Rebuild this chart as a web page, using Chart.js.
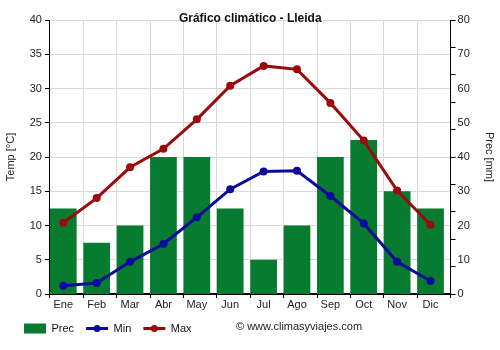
<!DOCTYPE html>
<html>
<head>
<meta charset="utf-8">
<script src="https://cdn.jsdelivr.net/npm/chart.js@4.4.1/dist/chart.umd.min.js"></script>
<style>
  body { margin: 0; background: #fff; }
  #wrap { width: 500px; height: 350px; position: relative; }
</style>
</head>
<body>
<div id="wrap"><canvas id="clima"></canvas></div>
<script>
const months = ['Ene', 'Feb', 'Mar', 'Abr', 'May', 'Jun', 'Jul', 'Ago', 'Sep', 'Oct', 'Nov', 'Dic'];
const prec = [25, 15, 20, 40, 40, 25, 10, 20, 40, 45, 30, 25];
const tMin = [1.2, 1.6, 4.7, 7.3, 11.2, 15.3, 17.9, 18.0, 14.3, 10.3, 4.7, 1.9];
const tMax = [10.4, 14.0, 18.5, 21.2, 25.5, 30.4, 33.3, 32.8, 27.9, 22.4, 15.1, 10.1];

const GREEN = '#077b30';
const BLUE = '#0a0a9b';
const RED = '#9b0b0b';
const GRID = '#d9d9d9';

Chart.defaults.font.family = "'Liberation Sans', Arial, sans-serif";
Chart.defaults.font.size = 11;
Chart.defaults.color = '#222';

const toXY = arr => arr.map((v, i) => ({ x: i, y: v }));

// title, copyright and the line+dot legend markers
const extras = {
  id: 'extras',
  afterDraw(chart) {
    const ctx = chart.ctx;
    const area = chart.chartArea;
    ctx.save();
    ctx.fillStyle = '#111';
    ctx.font = "bold 12px 'Liberation Sans', Arial, sans-serif";
    ctx.textAlign = 'center';
    ctx.textBaseline = 'alphabetic';
    ctx.fillText('Gráfico climático - Lleida', (area.left + area.right) / 2, 22);

    ctx.font = "11px 'Liberation Sans', Arial, sans-serif";
    ctx.textAlign = 'left';
    ctx.textBaseline = 'middle';
    ctx.fillStyle = '#222';
    ctx.fillText('© www.climasyviajes.com', 236, 327);

    const legend = chart.legend;
    legend.legendItems.forEach((item, i) => {
      const ds = chart.data.datasets[item.datasetIndex];
      if (ds.type !== 'line') return;
      const box = legend.legendHitBoxes[i];
      const y = box.top + box.height / 2;
      ctx.strokeStyle = ds.borderColor;
      ctx.lineWidth = 3;
      ctx.beginPath();
      ctx.moveTo(box.left, y);
      ctx.lineTo(box.left + 22, y);
      ctx.stroke();
      ctx.fillStyle = ds.borderColor;
      ctx.beginPath();
      ctx.arc(box.left + 11, y, 3.5, 0, Math.PI * 2);
      ctx.fill();
    });
    ctx.restore();
  }
};

new Chart(document.getElementById('clima'), {
  data: {
    datasets: [
      {
        type: 'bar', label: 'Prec', data: toXY(prec),
        xAxisID: 'x', yAxisID: 'yp',
        backgroundColor: GREEN, borderWidth: 0,
        barPercentage: 0.8, categoryPercentage: 1, order: 2
      },
      {
        type: 'line', label: 'Min', data: toXY(tMin),
        xAxisID: 'x', yAxisID: 'y',
        borderColor: BLUE, backgroundColor: BLUE, borderWidth: 3,
        pointRadius: 4, pointBackgroundColor: BLUE, pointBorderWidth: 0, order: 1
      },
      {
        type: 'line', label: 'Max', data: toXY(tMax),
        xAxisID: 'x', yAxisID: 'y',
        borderColor: RED, backgroundColor: RED, borderWidth: 3,
        pointRadius: 4, pointBackgroundColor: RED, pointBorderWidth: 0, order: 1
      }
    ]
  },
  options: {
    responsive: true,
    maintainAspectRatio: false,
    animation: false,
    layout: { padding: { left: 12, right: 0, top: 20, bottom: 6 } },
    plugins: {
      title: { display: false },
      tooltip: { enabled: false },
      legend: {
        position: 'bottom',
        align: 'start',
        labels: {
          boxWidth: 22, boxHeight: 10, padding: 12, color: '#111',
          sort: (a, b) => a.datasetIndex - b.datasetIndex,
          generateLabels(chart) {
            const items = Chart.defaults.plugins.legend.labels.generateLabels(chart);
            items.forEach(it => {
              if (chart.data.datasets[it.datasetIndex].type === 'line') {
                it.fillStyle = 'rgba(0,0,0,0)';
                it.strokeStyle = 'rgba(0,0,0,0)';
              }
              it.lineWidth = 0;
            });
            return items;
          }
        }
      }
    },
    scales: {
      x: {
        type: 'linear', position: 'bottom', weight: 0, offset: false,
        min: -0.4, max: 11.6,
        afterBuildTicks: s => { s.ticks = months.map((m, i) => ({ value: i - 0.4 })).concat([{ value: 11.6 }]); },
        grid: { color: GRID, tickColor: '#000', tickLength: 4, offset: false },
        border: { color: '#000', width: 2 },
        ticks: { display: false }
      },
      xl: {
        type: 'linear', position: 'bottom', weight: 1, offset: false,
        min: -0.4, max: 11.6,
        afterBuildTicks: s => { s.ticks = months.map((m, i) => ({ value: i })); },
        grid: { display: false, drawTicks: false },
        border: { display: false },
        ticks: {
          padding: 1, autoSkip: false, maxRotation: 0, color: '#222',
          font: { lineHeight: 1 },
          callback: v => months[v]
        }
      },
      y: {
        position: 'left', min: 0, max: 40,
        ticks: { stepSize: 5, padding: 3, color: '#222' },
        grid: { color: GRID, tickColor: '#000', tickLength: 5 },
        border: { color: '#000', width: 1 },
        title: { display: true, text: 'Temp [°C]', color: '#222', padding: { top: -8, bottom: 9.5 } }
      },
      yt: {
        position: 'right', weight: 0, min: 0, max: 10,
        ticks: { display: false, stepSize: 1 },
        grid: { display: true, drawOnChartArea: false, tickColor: '#000', tickLength: 5 },
        border: { color: '#000', width: 1 }
      },
      yp: {
        position: 'right', weight: 1, min: 0, max: 80,
        ticks: { stepSize: 10, padding: 2, color: '#222' },
        grid: { display: false, drawTicks: false },
        border: { display: false },
        title: { display: true, text: 'Prec [mm]', color: '#222', padding: { top: 4, bottom: 11 } }
      }
    }
  },
  plugins: [extras]
});
</script>
</body>
</html>
